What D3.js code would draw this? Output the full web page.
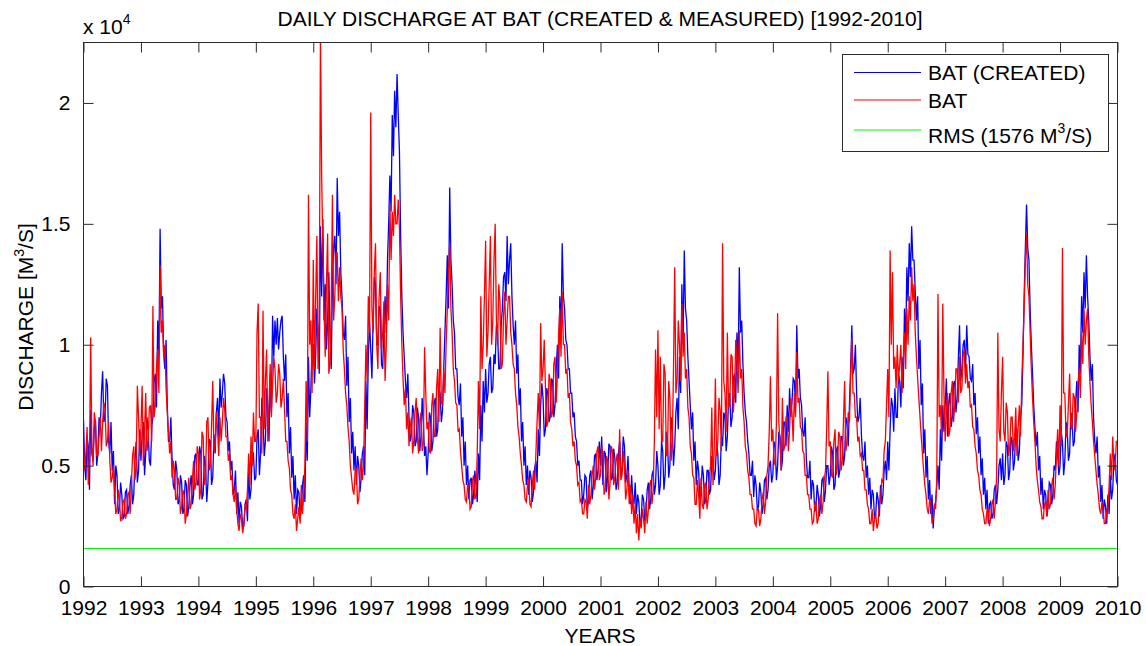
<!DOCTYPE html>
<html>
<head>
<meta charset="utf-8">
<script src="https://cdn.jsdelivr.net/npm/d3@7"></script>
<style>
  body { margin: 0; background: #fff; }
  svg text { font-family: Arial, "Liberation Sans", Helvetica, sans-serif; fill: #000; }
</style>
</head>
<body>
<svg id="chart" width="1146" height="646"></svg>
<script>
// Time axis: weekly-ish samples (48 per year) from 1992 to 2010
const startYear = 1992;
const endYear = 2010;
const yearTicks = d3.range(1992, 2011);
const yTicks = [0, 5000, 10000, 15000, 20000];
const yMax = 22500;
const rmsValue = 1576;

// BAT (CREATED) discharge, thousand m3/s, one row per year
const createdK = [
  6.9,5.0,4.4,6.2,5.8,4.0,7.3,5.5,5.2,6.5,6.9,5.0,5.5,7.0,6.5,8.0,8.9,6.8,7.0,8.6,8.3,6.0,5.5,6.8,4.8,5.6,3.4,5.0,4.6,3.0,3.2,4.3,3.8,2.8,2.9,3.9,4.0,3.0,3.3,4.2,4.6,3.4,3.8,5.2,6.0,4.3,4.8,6.5,
  5.2,6.3,6.8,4.6,5.5,7.0,6.5,5.2,5.0,6.6,7.0,8.5,8.8,7.4,11.0,9.5,14.8,11.5,12.0,9.6,9.0,10.2,7.5,6.0,6.0,7.0,5.3,4.2,4.0,5.2,4.8,3.4,3.5,4.6,4.3,3.0,3.2,4.4,4.2,2.9,3.3,4.2,4.6,3.4,3.8,5.4,5.5,4.2,
  4.2,5.8,5.5,3.6,3.8,5.4,5.0,3.5,4.3,6.1,6.0,4.2,4.5,6.3,5.5,7.2,7.8,6.2,8.6,7.4,8.0,8.8,8.4,7.0,6.8,5.6,6.0,4.8,5.2,3.8,4.0,4.8,3.0,3.9,2.6,3.5,3.3,2.4,2.5,3.4,3.6,2.7,4.8,3.6,4.0,5.6,5.5,4.4,
  4.5,6.2,6.5,4.6,5.5,7.8,7.0,5.4,6.0,8.2,7.5,6.0,8.8,7.2,11.2,9.5,11.0,10.0,11.1,9.8,10.5,11.0,11.2,9.5,8.5,9.6,7.0,8.0,5.5,6.6,4.5,5.4,3.6,4.6,3.0,4.0,3.9,2.8,3.2,4.2,4.6,3.5,6.8,5.2,9.5,7.0,8.2,10.0,
  10.0,8.4,9.5,11.5,10.2,8.8,14.9,12.0,15.2,11.0,12.5,9.8,11.0,13.0,10.3,9.0,12.5,14.0,14.5,12.5,16.9,14.5,15.5,13.0,12.0,10.5,10.2,11.2,8.3,9.5,6.8,7.8,5.5,6.4,4.8,5.8,4.2,5.4,5.0,3.9,4.5,5.5,5.8,4.6,8.5,6.5,9.5,11.0,
  9.8,8.6,11.0,12.8,12.5,10.0,10.0,11.6,11.5,9.2,9.0,10.8,12.0,10.5,13.5,15.0,17.0,15.5,19.5,17.8,20.5,19.0,21.2,19.5,18.0,14.5,12.0,10.5,9.5,8.5,7.8,8.8,7.0,6.0,6.3,7.5,7.2,5.8,6.0,7.4,7.0,5.6,6.2,7.8,6.8,5.4,5.8,4.6,
  5.5,7.2,7.0,5.6,6.0,7.6,7.8,6.2,6.5,8.2,8.0,6.8,7.3,9.0,10.5,12.0,13.7,11.5,16.5,13.5,12.5,11.0,10.5,9.0,9.0,7.8,7.5,8.4,6.2,7.0,5.0,6.0,4.2,5.0,3.6,4.4,4.5,3.4,3.8,4.8,4.2,3.5,5.5,4.4,7.5,6.0,8.5,7.2,
  9.0,7.6,8.0,9.2,9.5,8.0,8.2,9.6,9.2,10.8,10.5,9.0,9.0,10.8,11.5,12.8,13.0,11.8,14.5,12.5,13.5,14.2,12.0,10.8,10.0,11.0,8.8,9.6,7.5,8.2,6.0,6.8,5.0,5.8,4.2,5.0,3.8,4.8,4.5,3.5,3.9,4.9,5.2,4.3,6.5,5.4,7.5,8.4,
  7.8,6.2,6.5,8.2,8.0,6.8,7.0,8.6,8.5,7.0,7.5,9.0,10.0,8.6,12.0,10.5,14.2,12.0,11.5,10.2,10.0,9.0,9.0,8.0,8.0,7.0,7.2,6.2,6.0,5.0,5.2,4.4,4.4,3.4,3.8,4.6,4.5,3.2,3.6,4.6,4.8,3.6,4.2,5.4,5.5,4.4,4.8,6.0,
  5.0,6.2,4.2,5.6,5.5,3.9,4.6,5.9,5.8,4.4,4.5,5.7,5.3,4.0,4.3,5.5,6.0,4.6,4.8,6.2,5.8,4.3,4.6,5.4,4.0,3.4,4.6,3.6,3.4,4.3,3.0,3.8,3.5,2.6,2.8,3.8,3.6,2.7,3.0,4.0,4.3,3.2,3.6,4.6,4.8,3.8,4.2,5.6,
  5.0,3.8,4.2,6.0,5.6,4.0,4.6,6.4,6.0,4.5,5.0,7.0,6.5,5.0,5.8,7.2,7.8,6.5,9.5,8.0,12.5,10.0,13.9,11.5,11.0,9.5,8.5,7.5,6.5,7.2,5.2,6.0,4.2,5.2,4.8,3.6,3.8,5.0,4.6,3.4,3.6,4.8,4.8,3.8,4.0,5.4,5.2,4.4,
  4.8,6.0,5.5,4.2,4.6,6.2,5.8,7.2,7.0,5.6,6.2,7.8,8.0,6.6,7.0,8.6,8.8,7.6,10.5,9.0,13.2,10.5,11.0,9.2,8.0,7.2,6.8,6.0,5.5,4.6,4.6,5.2,3.7,4.6,4.2,3.2,3.3,4.3,3.9,3.0,3.4,4.4,4.5,3.6,4.0,5.0,5.2,4.3,
  4.6,6.0,5.8,4.4,5.0,6.4,6.2,4.8,5.2,6.8,6.8,5.8,7.5,6.4,8.2,7.0,7.6,8.6,8.5,7.4,10.8,8.6,9.0,7.8,7.5,6.4,6.2,7.0,5.3,4.5,4.5,5.2,3.6,4.4,4.2,3.1,3.2,4.2,3.8,2.9,3.4,4.4,4.5,3.5,4.0,5.0,5.0,4.2,
  4.6,5.8,5.5,4.0,4.2,5.6,5.8,4.5,4.8,6.2,6.2,5.0,5.4,7.0,6.8,5.8,7.5,9.0,10.8,8.8,9.0,10.0,8.0,6.8,7.0,7.8,6.3,5.4,5.2,6.0,4.5,5.0,3.8,4.5,3.2,4.0,3.8,2.8,3.0,3.9,3.6,2.9,4.2,3.4,3.8,4.8,5.2,4.4,
  6.0,4.8,6.5,7.8,7.5,6.4,8.2,7.0,7.0,8.8,8.5,7.4,9.5,8.2,11.5,10.0,13.2,11.8,14.2,12.8,14.9,13.5,13.5,12.2,11.0,12.0,9.0,10.2,7.5,8.4,5.5,6.5,4.5,5.4,3.6,4.4,3.0,3.8,2.4,3.3,3.5,4.2,5.0,4.0,6.5,5.2,7.5,6.4,
  7.5,8.6,6.2,7.6,8.0,6.6,7.0,8.4,8.5,7.2,7.8,9.4,10.8,8.5,9.0,10.0,10.2,8.8,10.8,9.6,9.5,8.6,8.5,9.2,7.5,8.0,6.3,7.0,5.5,6.2,4.6,5.3,3.8,4.5,3.2,4.0,2.6,3.4,3.5,2.8,3.0,4.0,4.2,3.4,4.0,5.0,5.3,4.4,
  5.5,4.2,4.6,6.0,5.8,4.4,4.8,6.2,6.0,4.8,5.2,6.6,6.5,5.2,5.6,7.0,7.5,9.5,12.0,14.0,15.8,14.0,13.5,11.5,10.0,8.8,7.5,6.6,5.8,6.4,4.8,5.4,3.8,4.5,3.2,4.0,3.8,2.9,3.3,4.3,4.2,3.4,3.8,5.0,4.8,6.0,5.5,4.6,
  5.0,6.4,6.0,4.6,5.2,6.8,6.5,5.2,5.5,7.2,7.0,5.8,6.0,7.6,8.5,7.2,10.0,8.8,12.0,10.5,13.0,11.5,13.7,12.0,11.0,9.5,8.5,9.2,7.0,6.0,5.5,6.2,4.5,5.0,3.5,4.2,2.8,3.6,3.3,2.6,3.8,3.0,4.6,3.6,4.0,5.2,5.5,4.4,
  4.2
];

// BAT (measured) discharge, thousand m3/s, one row per year
const measuredK = [
  6.0,4.8,5.5,6.6,4.2,5.2,10.3,5.8,5.0,7.2,6.8,5.4,5.4,6.2,7.0,5.6,6.8,7.6,7.4,5.8,6.0,6.8,5.2,4.3,4.5,5.0,4.0,3.0,3.2,4.0,3.6,2.7,2.9,3.5,3.6,2.8,3.0,3.8,3.9,3.0,4.2,5.4,5.8,4.4,5.0,8.3,7.0,5.4,
  6.5,8.3,5.0,6.4,8.0,5.6,6.0,7.4,7.5,6.0,11.6,7.0,7.5,9.0,9.8,8.0,13.3,10.5,11.0,9.5,10.0,8.2,7.2,6.4,5.5,6.0,4.5,5.2,4.8,3.6,3.6,4.5,4.2,3.0,3.3,4.0,3.8,2.6,3.0,3.8,4.5,3.2,3.4,4.4,5.2,4.0,4.3,5.8,
  5.5,3.6,4.0,6.4,6.2,4.2,4.5,6.8,7.0,4.8,5.0,6.6,8.5,5.6,5.8,7.2,6.5,5.4,7.0,6.0,6.8,7.8,7.3,6.2,6.2,5.2,5.5,4.4,4.6,3.8,3.5,4.2,3.2,2.6,2.3,3.0,2.8,2.2,2.6,3.3,3.2,4.0,5.5,4.2,6.2,5.0,7.2,6.0,
  6.0,10.5,11.7,7.0,7.0,5.5,11.4,6.5,8.5,9.8,6.0,7.5,9.2,7.0,8.3,9.5,9.0,7.6,8.0,9.2,8.8,7.4,7.8,8.6,7.3,6.0,6.0,5.2,4.9,4.0,3.8,3.0,2.8,3.4,2.3,2.8,3.3,2.6,4.2,3.0,3.8,5.0,8.5,6.0,16.2,10.0,11.0,8.0,
  13.5,9.0,12.0,14.5,9.0,11.0,23.0,17.0,14.0,11.5,9.5,12.5,14.6,8.8,9.2,11.5,16.2,11.0,12.0,13.8,13.8,11.8,13.2,12.0,11.5,9.8,9.0,8.0,7.5,6.6,6.0,5.0,4.5,4.0,3.8,4.8,4.9,3.4,3.6,4.6,5.3,4.4,5.0,7.5,10.0,8.5,12.0,10.5,
  19.6,11.5,10.5,13.0,14.2,10.0,9.0,12.0,13.0,9.8,10.5,11.8,8.5,10.0,12.5,11.0,15.8,13.5,15.5,14.5,16.2,15.0,15.0,16.0,14.8,12.0,10.0,8.6,7.5,8.2,6.5,7.2,5.8,6.6,7.0,5.5,6.0,7.2,7.8,6.2,5.5,6.8,7.2,5.6,6.0,9.9,8.0,6.5,
  6.8,5.6,5.5,7.5,8.0,6.2,6.2,8.2,9.0,6.8,10.7,7.6,7.5,9.0,8.0,10.0,11.5,13.0,14.2,11.5,10.5,9.0,8.5,7.6,7.5,6.4,6.5,5.6,5.0,4.4,4.2,3.6,3.5,4.2,4.2,3.2,3.3,4.4,4.6,3.6,3.8,5.5,8.5,6.5,12.0,9.0,10.0,12.0,
  14.3,9.5,10.5,12.5,14.5,10.0,11.0,13.5,15.0,11.0,10.0,12.5,11.8,9.0,9.2,11.2,12.2,10.0,11.0,12.0,12.0,10.5,10.0,9.2,9.0,8.0,7.5,6.6,6.2,5.5,5.0,4.4,4.2,3.6,3.5,4.2,4.5,3.4,3.3,4.2,4.8,4.0,5.5,6.8,8.0,6.5,10.9,8.5,
  9.0,10.2,8.2,6.6,6.8,8.8,8.5,7.0,7.2,9.2,9.5,7.6,8.8,10.4,11.5,9.5,12.2,10.0,10.0,8.8,9.0,7.8,8.0,6.8,6.5,5.8,6.0,5.2,5.0,4.2,4.3,3.5,3.6,3.0,3.0,3.6,3.5,2.8,4.2,3.4,3.8,4.6,5.0,4.0,4.5,5.6,5.8,4.4,
  4.6,5.8,5.5,3.8,4.0,5.4,5.2,3.6,4.3,5.8,5.6,4.2,4.5,5.2,5.5,4.0,6.5,4.4,4.6,5.6,5.0,3.6,4.0,4.8,3.4,4.2,3.0,3.8,2.6,3.4,2.2,3.0,1.9,2.8,2.4,3.2,2.8,2.2,3.5,2.6,3.2,4.2,4.4,3.4,4.0,6.0,9.8,7.0,
  10.6,6.5,9.5,6.0,6.0,9.2,8.8,5.4,5.5,8.5,7.8,5.2,6.0,9.0,13.2,8.0,8.5,11.0,10.0,8.5,11.7,9.5,10.5,8.6,9.0,7.4,7.0,5.8,5.5,4.6,4.5,3.4,3.4,4.4,3.8,2.8,4.5,3.4,3.2,4.2,4.3,3.2,3.6,4.6,5.0,7.4,4.2,5.6,
  8.6,5.4,6.0,7.8,7.3,5.6,14.2,8.5,8.0,6.4,10.5,7.4,7.5,9.6,9.5,7.2,8.0,10.2,9.2,8.0,10.6,8.6,9.0,7.4,6.8,5.8,5.5,4.8,4.5,3.8,3.8,3.2,3.2,2.6,2.5,3.2,3.2,2.5,2.8,3.6,3.9,3.0,3.5,4.6,5.0,6.4,8.7,6.0,
  6.5,5.2,5.0,6.8,11.3,6.8,6.0,4.8,7.8,5.6,5.8,7.0,7.0,5.6,6.5,7.8,7.2,6.0,8.0,7.0,9.7,7.6,7.8,6.6,6.5,5.6,5.5,4.6,4.6,3.8,3.8,3.2,3.2,2.6,2.7,3.4,3.5,2.6,2.8,3.6,3.8,3.0,3.5,4.4,4.8,6.5,8.9,5.8,
  6.0,4.6,4.5,6.0,6.5,4.6,5.0,6.4,6.2,4.8,5.2,6.8,8.5,5.6,6.0,7.2,6.8,8.6,10.3,8.0,8.0,7.0,7.0,6.0,6.2,5.4,5.5,4.8,4.8,4.0,4.0,3.4,3.2,2.6,2.6,3.2,2.3,2.8,3.0,2.4,2.6,3.4,3.5,4.4,4.3,5.6,6.0,7.5,
  9.0,7.0,13.9,10.0,13.0,9.0,9.5,8.2,10.0,8.5,9.2,10.0,8.0,9.4,10.5,9.0,11.5,10.0,12.0,11.0,13.2,11.8,12.5,10.5,9.5,8.6,7.8,7.0,6.2,5.5,4.8,4.2,3.8,3.2,3.0,3.6,3.5,2.6,2.8,3.4,3.2,4.5,12.1,7.0,7.5,6.2,11.7,8.0,
  6.0,7.2,8.0,6.2,6.5,8.0,8.5,6.8,7.5,9.0,9.0,7.6,9.5,8.0,8.2,9.6,9.8,8.4,9.2,8.2,8.5,7.4,7.5,6.6,6.5,5.8,5.5,4.8,4.6,4.0,3.8,3.2,3.0,2.6,2.6,3.2,3.2,2.5,2.8,3.4,3.6,2.8,3.5,4.6,10.5,6.5,6.0,8.0,
  9.5,6.4,6.0,7.6,7.2,5.4,5.8,7.0,7.0,5.6,6.2,7.4,5.4,6.6,7.5,6.2,8.5,10.0,11.5,13.5,14.6,12.5,12.0,10.5,9.0,7.8,6.8,6.0,5.0,4.4,4.0,3.5,3.3,2.8,2.8,3.4,3.5,2.9,4.0,3.2,3.4,4.2,4.5,3.6,4.2,5.4,6.5,5.0,
  7.5,5.8,14.0,8.0,8.0,6.2,6.2,7.6,8.8,6.6,6.5,8.0,7.8,6.4,7.2,8.4,9.0,7.8,10.5,9.2,11.5,10.0,11.0,11.5,9.5,8.4,7.5,6.8,6.0,5.4,4.8,4.2,3.8,3.2,3.0,3.5,3.2,2.6,2.6,3.2,3.2,4.2,5.5,4.4,6.2,5.0,4.8,6.0,
  6.0
];

const legendLabels = ["BAT (CREATED)", "BAT", "RMS"];
const seriesColors = ["#0000ff", "#ff0000", "#00ff00"];

const svg = d3.select("#chart");
const plot = { left: 83.5, right: 1117.5, top: 42.5, bottom: 586.5 };
const fontSize = 21;

const x = d3.scaleLinear().domain([startYear, endYear]).range([plot.left, plot.right]);
const y = d3.scaleLinear().domain([0, yMax]).range([plot.bottom, plot.top]);

// samples are evenly spaced over the whole period, last one on 1 Jan 2010
const toPoints = arr => arr.map((v, i) => ({
  t: startYear + (endYear - startYear) * i / (arr.length - 1),
  q: v * 1000
}));
const line = d3.line().x(d => x(d.t)).y(d => y(d.q));

svg.append("defs").append("clipPath").attr("id", "plot-clip")
  .append("rect")
  .attr("x", plot.left).attr("y", plot.top)
  .attr("width", plot.right - plot.left).attr("height", plot.bottom - plot.top);

const data = svg.append("g").attr("clip-path", "url(#plot-clip)");

data.append("path")
  .datum(toPoints(createdK))
  .attr("fill", "none").attr("stroke", seriesColors[0]).attr("stroke-width", 1.3)
  .attr("d", line);

data.append("path")
  .datum(toPoints(measuredK))
  .attr("fill", "none").attr("stroke", seriesColors[1]).attr("stroke-width", 1.3)
  .attr("d", line);

data.append("line")
  .attr("x1", plot.left).attr("x2", plot.right)
  .attr("y1", Math.round(y(rmsValue)) + 0.5).attr("y2", Math.round(y(rmsValue)) + 0.5)
  .attr("stroke", seriesColors[2]).attr("stroke-width", 1);

// Axes with inward ticks on all four sides
const axisColor = "#2b2b2b";
function styleAxis(g) {
  g.attr("font-family", null).attr("font-size", null);
  g.selectAll("line").attr("stroke", axisColor);
  g.select(".domain").remove();
  g.selectAll("text").attr("font-size", fontSize).attr("fill", "#000");
}

svg.append("g").attr("transform", `translate(0,${plot.bottom})`)
  .call(d3.axisBottom(x).tickValues(yearTicks).tickFormat(d3.format("d"))
    .tickSizeInner(-10).tickSizeOuter(0).tickPadding(14))
  .call(styleAxis);

svg.append("g").attr("transform", `translate(0,${plot.top})`)
  .call(d3.axisTop(x).tickValues(yearTicks).tickFormat("")
    .tickSizeInner(-10).tickSizeOuter(0))
  .call(styleAxis);

svg.append("g").attr("transform", `translate(${plot.left},0)`)
  .call(d3.axisLeft(y).tickValues(yTicks).tickFormat(d => d / 10000)
    .tickSizeInner(-10).tickSizeOuter(0).tickPadding(13))
  .call(styleAxis);

svg.append("g").attr("transform", `translate(${plot.right},0)`)
  .call(d3.axisRight(y).tickValues(yTicks).tickFormat("")
    .tickSizeInner(-10).tickSizeOuter(0))
  .call(styleAxis);

svg.append("rect")
  .attr("x", plot.left).attr("y", plot.top)
  .attr("width", plot.right - plot.left).attr("height", plot.bottom - plot.top)
  .attr("fill", "none").attr("stroke", axisColor).attr("stroke-width", 1);

// Exponent label for the y axis
const expo = svg.append("text").attr("x", 83).attr("y", 34).attr("font-size", fontSize);
expo.append("tspan").text("x 10");
expo.append("tspan").attr("font-size", 14).attr("dy", -10).text("4");

// Title and axis labels
svg.append("text")
  .attr("x", 600).attr("y", 26).attr("text-anchor", "middle").attr("font-size", fontSize)
  .text(`DAILY DISCHARGE AT BAT (CREATED & MEASURED) [${startYear}-${endYear}]`);

svg.append("text")
  .attr("x", 600).attr("y", 643).attr("text-anchor", "middle").attr("font-size", fontSize)
  .text("YEARS");

const ylab = svg.append("text")
  .attr("transform", "translate(33,317) rotate(-90)")
  .attr("text-anchor", "middle").attr("font-size", fontSize);
ylab.append("tspan").text("DISCHARGE [M");
ylab.append("tspan").attr("font-size", 14).attr("dy", -9).text("3");
ylab.append("tspan").attr("dy", 9).text("/S]");

// Legend
const legend = svg.append("g");
legend.append("rect")
  .attr("x", 842.5).attr("y", 54.5).attr("width", 266).attr("height", 97)
  .attr("fill", "#fff").attr("stroke", axisColor).attr("stroke-width", 1);

const rows = [
  { y: 72.5, base: 80, label: legendLabels[0], color: seriesColors[0] },
  { y: 100, base: 108, label: legendLabels[1], color: seriesColors[1] },
  { y: 130, base: 143, label: legendLabels[2], color: seriesColors[2] }
];
rows.forEach((r, i) => {
  legend.append("line")
    .attr("x1", 854).attr("x2", 921).attr("y1", r.y).attr("y2", r.y)
    .attr("stroke", r.color).attr("stroke-width", 1);
  const t = legend.append("text").attr("x", 928).attr("y", r.base).attr("font-size", fontSize);
  if (i < 2) {
    t.text(r.label);
  } else {
    t.append("tspan").text(`${r.label} (${rmsValue} M`);
    t.append("tspan").attr("font-size", 14).attr("dy", -10).text("3");
    t.append("tspan").attr("dy", 10).text("/S)");
  }
});
</script>
</body>
</html>
